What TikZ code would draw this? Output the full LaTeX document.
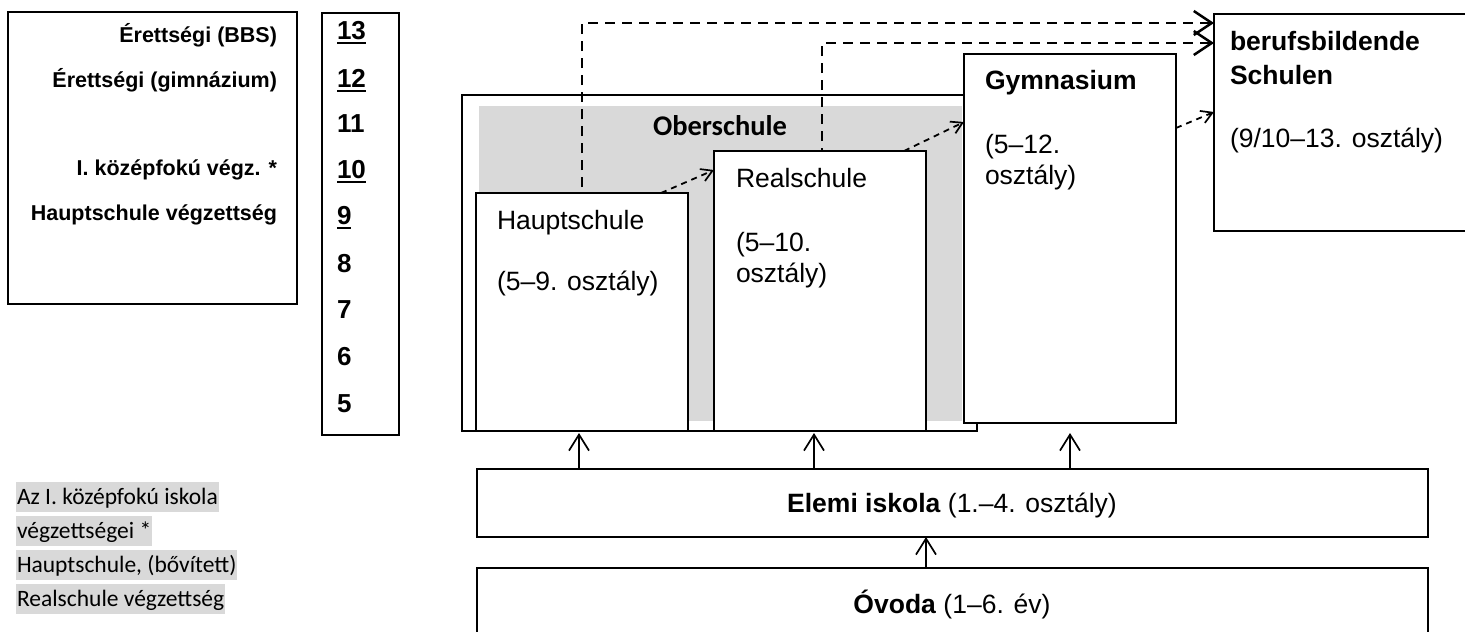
\documentclass[tikz,border=0pt]{standalone}
\usepackage{fontspec}
\setmainfont{Liberation Sans}
\newfontfamily\calfont{Carlito}
\usetikzlibrary{arrows.meta}
\definecolor{hl}{HTML}{D9D9D9}
\newcommand\boxfont{\fontsize{26.5}{31.5}\selectfont}
\newcommand\lblfont{\fontsize{21.5}{26}\selectfont\bfseries}
\newcommand\numfont{\fontsize{26}{30}\selectfont\bfseries}
\newcommand\notefont{\calfont\fontsize{23.5}{28}\selectfont}
\newcommand\oberfont{\calfont\bfseries\fontsize{28.5}{34}\selectfont}
\newcommand\mynum[1]{\leavevmode\vtop{\hbox{#1}\kern2.5pt\hrule height 2.2pt}}
\tikzset{
  bx/.style={draw, fill=white, inner sep=0pt, outer sep=0pt, anchor=north west},
  thickbox/.style={bx, line width=2.8pt},
  thinbox/.style={bx, line width=2.1pt},
  txt/.style={inner sep=0pt, outer sep=0pt, anchor=base west, font=\boxfont},
  lbl/.style={inner sep=0pt, outer sep=0pt, anchor=base east, font=\lblfont},
  numl/.style={inner sep=0pt, outer sep=0pt, anchor=base west, font=\numfont},
  note/.style={inner xsep=1pt, inner ysep=0pt, outer sep=0pt, anchor=base west, fill=hl,
    text height=22pt, text depth=8pt, font=\notefont},
  uparr/.style={line width=1.7pt, -{Straight Barb[length=16pt,width=20pt,line width=1.7pt]}},
  bigdash/.style={line width=2.6pt, dash pattern=on 10pt off 7pt,
    -{Straight Barb[length=18pt,width=24pt,line width=2.5pt]}},
  smalldash/.style={line width=1.8pt, dash pattern=on 6pt off 5pt,
    -{Straight Barb[length=11pt,width=13pt,line width=1.7pt]}},
}
\begin{document}
\begin{tikzpicture}[x=1pt,y=-1pt]
\useasboundingbox (0,0) rectangle (1465,632);
% left legend box
\node[thickbox, minimum width=289pt, minimum height=292pt] (legend) at (8,12) {};
\node[lbl] (l1) at (277,42) {Érettségi (BBS)};
\node[lbl] (l2) at (277,87) {Érettségi (gimnázium)};
\node[lbl] (l3) at (277,175) {I. középfokú végz. *};
\node[lbl] (l4) at (277,220) {Hauptschule végzettség};
% numbers column
\node[thickbox, minimum width=77pt, minimum height=422pt] (nums) at (322,13) {};
\node[numl] (n13) at (337,39) {\mynum{13}};
\node[numl] (n12) at (337,87) {\mynum{12}};
\node[numl] (n11) at (337,132) {11};
\node[numl] (n10) at (337,178) {\mynum{10}};
\node[numl] (n9) at (337,224) {\mynum{9}};
\node[numl] (n8) at (337,272) {8};
\node[numl] (n7) at (337,318) {7};
\node[numl] (n6) at (337,365) {6};
\node[numl] (n5) at (337,412) {5};
% footnote
\node[note] (f1) at (16,504) {Az I. középfokú iskola};
\node[note] (f2) at (16,538) {végzettségei *};
\node[note] (f3) at (16,572) {Hauptschule, (bővített)};
\node[note] (f4) at (16,606) {Realschule végzettség};
% Oberschule
\node[thickbox, minimum width=515pt, minimum height=336pt] (ober) at (462,95) {};
\node[bx, draw=none, fill=hl, minimum width=483pt, minimum height=315pt] (obfill) at (479,106) {};
\node[inner sep=0pt, anchor=base, font=\oberfont] (obt) at (720,135) {Oberschule};
% Hauptschule
\node[thinbox, minimum width=212pt, minimum height=238pt] (haupt) at (476,193) {};
\node[txt] (h1) at (497,229) {Hauptschule};
\node[txt] (h2) at (497,290) {(5–9. osztály)};
% Realschule
\node[thinbox, minimum width=212pt, minimum height=280pt] (real) at (714,151) {};
\node[txt] (r1) at (736,187) {Realschule};
\node[txt] (r2) at (736,251) {(5–10.};
\node[txt] (r3) at (736,282) {osztály)};
% Gymnasium
\node[thinbox, minimum width=212pt, minimum height=369pt] (gym) at (964,54) {};
\node[txt] (g1) at (985,89) {\textbf{Gymnasium}};
\node[txt] (g2) at (985,153) {(5–12.};
\node[txt] (g3) at (985,184) {osztály)};
% berufsbildende Schulen
\node[thinbox, minimum width=252pt, minimum height=217pt] (bbs) at (1214,14) {};
\node[txt] (b1) at (1230,50) {\textbf{berufsbildende}};
\node[txt] (b2) at (1230,84) {\textbf{Schulen}};
\node[txt] (b3) at (1230,147) {(9/10–13. osztály)};
% Elemi iskola, Ovoda
\node[thickbox, minimum width=951pt, minimum height=68pt] (elemi) at (477,469) {};
\node[inner sep=0pt, anchor=base, font=\boxfont] (et) at (952,512) {\textbf{Elemi iskola} (1.–4. osztály)};
\node[thickbox, minimum width=951pt, minimum height=72pt] (ovoda) at (477,568) {};
\node[inner sep=0pt, anchor=base, font=\boxfont] (ot) at (952,613) {\textbf{Óvoda} (1–6. év)};
% connectors
\draw[bigdash] ([xshift=78pt]haupt.north west) -- ([xshift=106pt]haupt.north west) |- ([yshift=-9pt]bbs.north west);
\draw[bigdash] ([xshift=101pt]real.north west) -- ([xshift=108pt]real.north west) |- ([yshift=-29pt]bbs.north west);
\draw[smalldash] ([xshift=-27pt]haupt.north east) -- ([yshift=-19pt]real.north west);
\draw[smalldash] ([xshift=-22pt]real.north east) -- ([yshift=-68pt]gym.north west);
\draw[smalldash] ([yshift=-74pt]gym.north east) -- ([yshift=-98pt]bbs.north west);
\draw[uparr] ([xshift=102pt]elemi.north west) -- ([xshift=103pt,yshift=-2pt]haupt.south west);
\draw[uparr] ([xshift=337pt]elemi.north west) -- ([xshift=100pt,yshift=-2pt]real.south west);
\draw[uparr] ([xshift=593pt]elemi.north west) -- ([yshift=-10pt]gym.south);
\draw[uparr] ([xshift=449pt]ovoda.north west) -- ([xshift=449pt]elemi.south west);
\end{tikzpicture}
\end{document}
